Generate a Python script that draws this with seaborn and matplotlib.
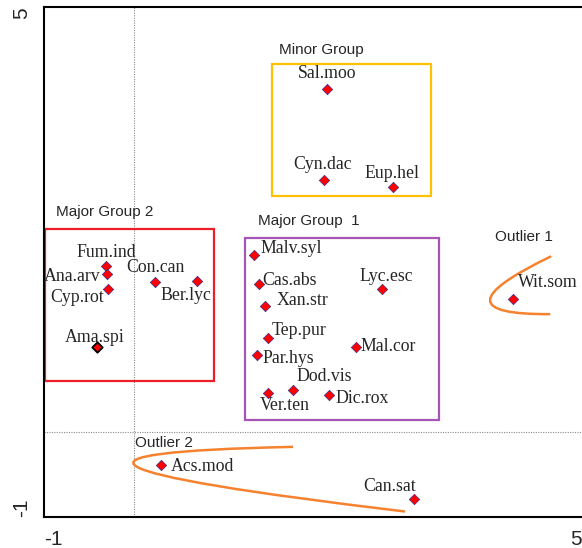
import matplotlib
matplotlib.use("Agg")
import matplotlib.pyplot as plt
from matplotlib.patches import Rectangle, PathPatch
from matplotlib.path import Path
import pandas as pd
import seaborn as sns

# ---- ordination scores ----
species = ["Fum.ind", "Ana.arv", "Cyp.rot", "Con.can", "Ber.lyc", "Ama.spi",
           "Malv.syl", "Cas.abs", "Xan.str", "Lyc.esc", "Tep.pur", "Mal.cor",
           "Par.hys", "Dod.vis", "Ver.ten", "Dic.rox",
           "Sal.moo", "Cyn.dac", "Eup.hel",
           "Wit.som", "Acs.mod", "Can.sat"]
axis1 = [-0.31, -0.30, -0.29, 0.24, 0.71, -0.41,
         1.34, 1.40, 1.47, 2.77, 1.50, 2.48,
         1.38, 1.78, 1.50, 2.18,
         2.16, 2.12, 2.89,
         4.23, 0.31, 3.13]
axis2 = [1.95, 1.86, 1.69, 1.77, 1.78, 1.00,
         2.08, 1.74, 1.48, 1.68, 1.11, 1.00,
         0.91, 0.50, 0.46, 0.44,
         4.04, 2.97, 2.88,
         1.57, -0.38, -0.78]
highlighted = ["Ama.spi"]

# ---- group boxes ----
box_names = ["Major Group 2", "Major Group  1", "Minor Group"]
box_x0 = [-0.99, 1.24, 1.54]
box_x1 = [0.90, 3.41, 3.32]
box_y0 = [0.61, 0.15, 2.78]
box_y1 = [2.39, 2.29, 4.33]

# ---- outlier envelopes (quadratic Bezier: start, control, end) ----
env_names = ["Outlier 1", "Outlier 2"]
env_x = [[4.66, 3.30, 4.65], [1.78, -2.33, 3.03]]
env_y = [[2.07, 1.38, 1.39], [-0.17, -0.26, -0.93]]

# ---- axis ticks ----
ticks = [-1, 0, 1, 2, 3, 4, 5]
tick_labels = ["-1", "", "", "", "", "", "5"]

# label placement: (dx px, dy px, horizontal alignment)
label_pos = {
    "Fum.ind": (0, 14, "center"), "Ana.arv": (-6, -2, "right"),
    "Cyp.rot": (-4, -9, "right"), "Con.can": (0, 14, "center"),
    "Ber.lyc": (-11, -15, "center"), "Ama.spi": (-2, 10, "center"),
    "Malv.syl": (7, 7, "left"), "Cas.abs": (3, 4, "left"),
    "Xan.str": (11, 6, "left"), "Lyc.esc": (4, 13, "center"),
    "Tep.pur": (4, 7, "left"), "Mal.cor": (5, 1, "left"),
    "Par.hys": (5, -4, "left"), "Dod.vis": (3, 13, "left"),
    "Ver.ten": (-8, -12, "left"), "Dic.rox": (7, -4, "left"),
    "Sal.moo": (0, 15, "center"), "Cyn.dac": (-1, 15, "center"),
    "Eup.hel": (-1, 14, "center"), "Wit.som": (5, 16, "left"),
    "Acs.mod": (9, -2, "left"), "Can.sat": (2, 12, "right"),
}
box_label_xy = {"Major Group 2": (-0.87, 2.59), "Major Group  1": (1.39, 2.48),
                "Minor Group": (1.62, 4.49)}
env_label_xy = {"Outlier 1": (4.03, 2.30), "Outlier 2": (0.02, -0.12)}
box_colors = {"Major Group 2": "#EC1F27", "Major Group  1": "#A555B5",
              "Minor Group": "#FFC000"}
env_color = "#F5822E"

sns.set_style("white")
plt.rcParams["font.family"] = ["Liberation Sans", "DejaVu Sans"]

df = pd.DataFrame({"species": species, "axis1": axis1, "axis2": axis2})
df["hl"] = df["species"].isin(highlighted)

fig = plt.figure(figsize=(5.82, 5.48), dpi=100)
ax = fig.add_axes([0.0756, 0.0557, 0.9237, 0.9315])

# reference lines through the origin
dot = (0, (1, 1.2))
ax.axvline(0, color="#8a8a8a", lw=0.8, ls=dot, zorder=1)
ax.axhline(0, color="#8a8a8a", lw=0.8, ls=dot, zorder=1)

# group boxes
for name, x0, x1, y0, y1 in zip(box_names, box_x0, box_x1, box_y0, box_y1):
    ax.add_patch(Rectangle((x0, y0), x1 - x0, y1 - y0, fill=False,
                           ec=box_colors[name], lw=1.6, zorder=2))
    tx, ty = box_label_xy[name]
    ax.text(tx, ty, name, fontsize=11, ha="left", va="center",
            family="Liberation Sans")

# outlier envelopes
for name, xs, ys in zip(env_names, env_x, env_y):
    path = Path(list(zip(xs, ys)), [Path.MOVETO, Path.CURVE3, Path.CURVE3])
    ax.add_patch(PathPatch(path, fill=False, ec=env_color, lw=1.8, zorder=2))
    tx, ty = env_label_xy[name]
    ax.text(tx, ty, name, fontsize=11, ha="left", va="center",
            family="Liberation Sans")

# species points
sns.scatterplot(data=df[~df["hl"]], x="axis1", y="axis2", marker="D", s=28,
                color="#FF0000", edgecolor="#3A2A8A", linewidth=0.5,
                legend=False, ax=ax, zorder=4)
sns.scatterplot(data=df[df["hl"]], x="axis1", y="axis2", marker="D", s=28,
                color="#FF0000", edgecolor="black", linewidth=1.3,
                legend=False, ax=ax, zorder=4)

for sp, x, y in zip(species, axis1, axis2):
    dx, dy, ha = label_pos[sp]
    ax.annotate(sp, (x, y), xytext=(dx, dy), textcoords="offset pixels",
                ha=ha, va="center", fontsize=12.8, family="Liberation Serif",
                zorder=5)

ax.set_xlim(-1, 5)
ax.set_ylim(-1, 5)
ax.set_xlabel("")
ax.set_ylabel("")
ax.set_xticks(ticks)
ax.set_yticks(ticks)
ax.set_xticklabels(tick_labels, fontsize=15)
ax.set_yticklabels(tick_labels, fontsize=15, rotation=90)
xl = ax.get_xticklabels()
xl[0].set_ha("left")
xl[-1].set_ha("right")
yl = ax.get_yticklabels()
yl[0].set_va("bottom")
yl[-1].set_va("top")
ax.tick_params(axis="both", direction="out", length=4, width=1.2,
               color="black", pad=5)

for side in ["left", "bottom", "top"]:
    ax.spines[side].set_color("black")
    ax.spines[side].set_linewidth(1.5)
ax.spines["right"].set_visible(False)

fig.savefig("out.png", dpi=100)
